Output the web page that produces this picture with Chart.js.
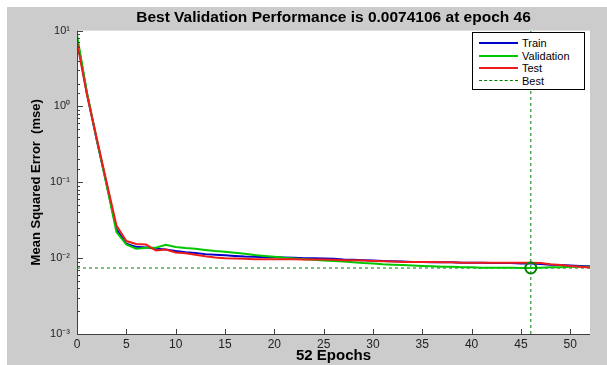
<!DOCTYPE html>
<html>
<head>
<meta charset="utf-8">
<script src="https://cdn.jsdelivr.net/npm/chart.js@4.4.0/dist/chart.umd.min.js"></script>
<style>
  html, body { margin: 0; padding: 0; background: #ffffff; }
  #wrap { position: relative; width: 607px; height: 365px; }
  canvas { position: absolute; left: 0; top: 0; }
  #legend { position: absolute; left: 472px; top: 32px; width: 111px; height: 56px;
    background: #ffffff; border: 1px solid #000000; font-family: "Liberation Sans", Arial, sans-serif;
    font-size: 11px; color: #000; }
  .li { position: absolute; left: 0; height: 12px; line-height: 12px; }
  .li .sw { position: absolute; left: 6px; top: 5px; width: 39px; height: 0; }
  .li .tx { position: absolute; left: 49px; top: 0; white-space: nowrap; }
</style>
</head>
<body>
<div id="wrap">
  <canvas id="c" width="607" height="365"></canvas>
  <div id="legend"></div>
</div>
<script>
// ---- data ----
const epochs = [0,1,2,3,4,5,6,7,8,9,10,11,12,13,14,15,16,17,18,19,20,21,22,23,24,25,26,27,28,29,30,31,32,33,34,35,36,37,38,39,40,41,42,43,44,45,46,47,48,49,50,51,52];
const trainMSE = [8.0,1.5,0.36,0.095,0.024,0.0155,0.0141,0.0138,0.0133,0.0130,0.0124,0.0120,0.0117,0.0113,0.0111,0.0109,0.0107,0.0105,0.0104,0.0103,0.0103,0.0102,0.0101,0.0100,0.0100,0.0099,0.0098,0.0096,0.0095,0.0094,0.0093,0.0092,0.0091,0.0090,0.0089,0.0089,0.0088,0.0088,0.0088,0.0087,0.0087,0.0087,0.0086,0.0086,0.0086,0.0085,0.0085,0.0084,0.0082,0.0081,0.0080,0.0079,0.0078];
const valMSE = [8.8,1.55,0.37,0.092,0.022,0.0152,0.0133,0.0137,0.0137,0.0150,0.0140,0.0136,0.0133,0.0128,0.0124,0.0121,0.0118,0.0114,0.0110,0.0107,0.0104,0.0101,0.0099,0.0097,0.0095,0.0093,0.0092,0.0090,0.0088,0.0086,0.0085,0.0083,0.0082,0.0081,0.0080,0.0079,0.0078,0.0077,0.0077,0.0076,0.0076,0.0075,0.0075,0.0075,0.0075,0.0074,0.0074106,0.0075,0.0076,0.0076,0.0077,0.0077,0.0077];
const testMSE = [7.0,1.45,0.38,0.10,0.027,0.0168,0.0154,0.0151,0.0126,0.0130,0.0119,0.0116,0.0111,0.0106,0.0102,0.0100,0.0099,0.0098,0.0097,0.0097,0.0097,0.0097,0.0097,0.0096,0.0096,0.0096,0.0095,0.0094,0.0094,0.0093,0.0092,0.0091,0.0090,0.0089,0.0089,0.0089,0.0089,0.0088,0.0088,0.0087,0.0087,0.0087,0.0087,0.0087,0.0087,0.0087,0.0087,0.0086,0.0083,0.0081,0.0079,0.0077,0.0075];
const bestEpoch = 46;
const bestPerf = 0.0074106;
const xTickValues = [0,5,10,15,20,25,30,35,40,45,50];
const yTickValues = [0.001,0.01,0.1,1,10];
const yTickLabels = ['10\u207B\u00B3','10\u207B\u00B2','10\u207B\u00B9','10\u2070','10\u00B9'];
const seriesNames = ['Train','Validation','Test','Best'];
const titleText = 'Best Validation Performance is 0.0074106 at epoch 46';
const xTitle = '52 Epochs';
const yTitle = 'Mean Squared Error  (mse)';
const xMax = 52, yMin = 0.001, yMax = 10;

// ---- styles ----
const FONT = '"Liberation Sans", Arial, sans-serif';
const C_TRAIN = '#0000cc', C_VAL = '#00c800', C_TEST = '#ee1c1c', C_BEST = '#008000';

const pts = arr => epochs.map((e, i) => ({x: e, y: arr[i]}));

const bgPlugin = {
  id: 'bg',
  beforeDraw(chart) {
    const ctx = chart.ctx, a = chart.chartArea;
    ctx.save();
    ctx.fillStyle = '#ffffff';
    ctx.fillRect(0, 0, chart.width, chart.height);
    ctx.fillStyle = '#cccccc';
    ctx.fillRect(7, 7, chart.width - 7, chart.height - 7);
    ctx.fillStyle = '#ffffff';
    ctx.fillRect(a.left, a.top, a.right - a.left, a.bottom - a.top);
    ctx.restore();
  },
  afterDraw(chart) {
    const ctx = chart.ctx, a = chart.chartArea;
    const xs = chart.scales.x, ys = chart.scales.y;
    ctx.save();
    ctx.strokeStyle = '#404040';
    ctx.lineWidth = 1;
    ctx.beginPath();
    ctx.moveTo(a.left + 0.5, a.top);
    ctx.lineTo(a.left + 0.5, a.bottom + 0.5);
    ctx.lineTo(a.right, a.bottom + 0.5);
    ctx.stroke();
    ctx.beginPath();
    xs.ticks.forEach(t => {
      const px = Math.round(xs.getPixelForValue(t.value)) + 0.5;
      ctx.moveTo(px, a.bottom);
      ctx.lineTo(px, a.bottom - 5);
    });
    ys.ticks.forEach(t => {
      const lg = Math.log10(t.value);
      const major = Math.abs(lg - Math.round(lg)) < 1e-9;
      const py = Math.round(ys.getPixelForValue(t.value)) + 0.5;
      ctx.moveTo(a.left, py);
      ctx.lineTo(a.left + (major ? 6 : 3), py);
    });
    ctx.stroke();
    ctx.restore();
  }
};

const chart = new Chart(document.getElementById('c'), {
  type: 'line',
  data: {
    datasets: [
      {label: seriesNames[0], data: pts(trainMSE), borderColor: C_TRAIN, borderWidth: 2, pointRadius: 0, order: 3},
      {label: seriesNames[1], data: pts(valMSE), borderColor: C_VAL, borderWidth: 2, pointRadius: 0, order: 2},
      {label: seriesNames[2], data: pts(testMSE), borderColor: C_TEST, borderWidth: 2, pointRadius: 0, order: 1},
      {label: seriesNames[3], data: [{x: 0, y: bestPerf}, {x: xMax, y: bestPerf}], borderColor: C_BEST, borderWidth: 1, borderDash: [3, 3], pointRadius: 0, order: 4},
      {label: 'bestV', data: [{x: bestEpoch, y: yMin}, {x: bestEpoch, y: yMax}], borderColor: C_BEST, borderWidth: 1, borderDash: [3, 3], pointRadius: 0, order: 4},
      {label: 'bestPt', data: [{x: bestEpoch, y: bestPerf}], showLine: false, pointRadius: 5.5, pointBorderWidth: 2, pointBorderColor: C_BEST, pointBackgroundColor: 'rgba(0,0,0,0)', borderColor: C_BEST, order: 0}
    ]
  },
  options: {
    responsive: false,
    animation: false,
    devicePixelRatio: 1,
    layout: {padding: {left: 0, right: 17, top: 0, bottom: 0}},
    plugins: {
      legend: {display: false},
      tooltip: {enabled: false},
      title: {
        display: true, text: titleText, fullSize: false, color: '#000',
        font: {family: FONT, size: 15.5, weight: 'bold'},
        padding: {top: 8, bottom: 4}
      }
    },
    scales: {
      x: {
        type: 'linear', min: 0, max: xMax,
        afterBuildTicks: s => { s.ticks = xTickValues.map(v => ({value: v})); },
        afterFit: s => { s.height = 31; },
        grid: {display: false, drawTicks: false},
        border: {display: false},
        ticks: {color: '#222', font: {family: FONT, size: 12}, padding: 3, autoSkip: false, maxRotation: 0,
          callback: v => String(v)},
        title: {display: true, text: xTitle, color: '#000', font: {family: FONT, size: 15, weight: 'bold'}, padding: {top: 0, bottom: 0}}
      },
      y: {
        type: 'logarithmic', min: yMin, max: yMax,
        afterFit: s => { s.width = 77; },
        grid: {display: false, drawTicks: false},
        border: {display: false},
        ticks: {color: '#222', font: {family: FONT, size: 11}, padding: 7, autoSkip: false,
          callback: v => { const i = yTickValues.findIndex(t => Math.abs(t - v) / t < 1e-9); return i >= 0 ? yTickLabels[i] : ''; }},
        title: {display: true, text: yTitle, color: '#000', font: {family: FONT, size: 13, weight: 'bold'}, padding: {top: 29, bottom: 0}}
      }
    }
  },
  plugins: [bgPlugin]
});

const lg = document.getElementById('legend');
const legendStyles = [
  {c: C_TRAIN, s: 'solid', w: 2},
  {c: C_VAL, s: 'solid', w: 2},
  {c: C_TEST, s: 'solid', w: 2},
  {c: C_BEST, s: 'dashed', w: 1}
];
seriesNames.forEach((n, i) => {
  const d = document.createElement('div');
  d.className = 'li';
  d.style.top = (4 + i * 12.6) + 'px';
  d.style.width = '100%';
  const sw = document.createElement('div');
  sw.className = 'sw';
  sw.style.borderTop = legendStyles[i].w + 'px ' + legendStyles[i].s + ' ' + legendStyles[i].c;
  const tx = document.createElement('span');
  tx.className = 'tx';
  tx.textContent = n;
  d.appendChild(sw); d.appendChild(tx);
  lg.appendChild(d);
});
</script>
</body>
</html>
